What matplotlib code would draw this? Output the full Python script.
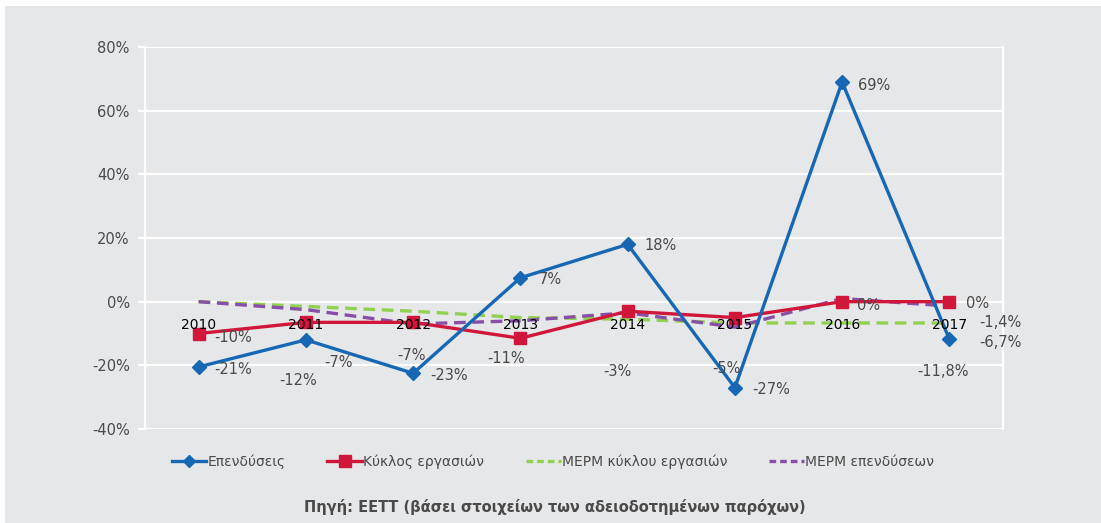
import matplotlib
matplotlib.use("Agg")
import matplotlib.pyplot as plt
from matplotlib.patches import Rectangle
from matplotlib.lines import Line2D

plt.rcParams['font.family'] = ['Liberation Sans Narrow', 'DejaVu Sans Condensed', 'DejaVu Sans']

years = ['2010', '2011', '2012', '2013', '2014', '2015', '2016', '2017']
investments = [-20.5, -12, -22.5, 7.5, 18, -27, 69, -11.8]
turnover = [-10, -6.5, -6.5, -11.5, -3, -5, 0, 0]
cagr_turnover = [0, -1.5, -3, -5, -5.5, -6.7, -6.7, -6.7]
cagr_invest = [0, -2.5, -7, -6, -3.5, -8, 1, -1.4]

inv_labels = ['-21%', '-12%', '-23%', '7%', '18%', '-27%', '69%', '-11,8%']
turn_labels = ['-10%', '-7%', '-7%', '-11%', '-3%', '-5%', '0%', '0%']
cagr_turn_label = '-6,7%'
cagr_inv_label = '-1,4%'

yticks = [-40, -20, 0, 20, 40, 60, 80]
series_names = ['Επενδύσεις', 'Κύκλος εργασιών', 'ΜΕΡΜ κύκλου εργασιών', 'ΜΕΡΜ επενδύσεων']
source = 'Πηγή: ΕΕΤΤ (βάσει στοιχείων των αδειοδοτημένων παρόχων)'

BG = '#e6e7e9'
TXT = '#4a4a4a'
BLUE = '#1768b4'
RED = '#d0173b'
GREEN = '#92d050'
PURPLE = '#8650a6'

W, H = 1101, 523
fig = plt.figure(figsize=(W / 100, H / 100), dpi=100)
fig.patch.set_facecolor('white')
fig.patches.append(Rectangle((5 / W, 0), 1, 1 - 6 / H, transform=fig.transFigure,
                             facecolor=BG, edgecolor='none', zorder=-10))

ax = fig.add_axes([145 / W, 1 - 429 / H, (1003 - 145) / W, (429 - 47) / H])
ax.set_facecolor(BG)
x = list(range(len(years)))

ax.plot(x, cagr_turnover, color=GREEN, lw=2.4, ls=(0, (3.5, 2)), zorder=3)
ax.plot(x, cagr_invest, color=PURPLE, lw=2.4, ls=(0, (3.5, 2)), zorder=3)
ax.plot(x, turnover, color=RED, lw=2.4, marker='s', ms=9, zorder=4)
ax.plot(x, investments, color=BLUE, lw=2.4, marker='D', ms=7, zorder=5)

ax.set_xlim(-0.5, len(years) - 0.5)
ax.set_ylim(-40, 80)
ax.set_yticks(yticks)
ax.set_yticklabels([f'{v}%' for v in yticks], color=TXT, fontsize=10.5)
ax.grid(axis='y', color='white', lw=1.6)
ax.set_axisbelow(True)
ax.set_xticks(x)
ax.set_xticklabels(years, color='#3c3c3c', fontsize=12)
ax.xaxis.set_zorder(6)
ax.spines['bottom'].set_position(('data', 0))
ax.spines['bottom'].set_visible(False)
ax.spines['top'].set_visible(False)
for s in ('left', 'right'):
    ax.spines[s].set_color('white')
    ax.spines[s].set_linewidth(1.6)
ax.tick_params(axis='x', length=0, pad=12)
ax.tick_params(axis='y', length=5, width=1.6, color='white', pad=6)

def lab(xi, yi, text, dx, dy, ha='left'):
    ax.annotate(text, (xi, yi), xytext=(dx, -dy), textcoords='offset pixels',
                ha=ha, va='center', fontsize=10.5, color=TXT, zorder=7)

inv_off = [(16, 3, 'left'), (-8, 41, 'center'), (17, 2, 'left'), (18, 2, 'left'),
           (17, 1, 'left'), (17, 2, 'left'), (16, 3, 'left'), (-6, 32, 'center')]
for i, (dx, dy, ha) in enumerate(inv_off):
    lab(i, investments[i], inv_labels[i], dx, dy, ha)

turn_off = [(16, 4, 'left'), (33, 40, 'center'), (-2, 33, 'center'), (-14, 20, 'center'),
            (-10, 60, 'center'), (-8, 51, 'center'), (15, 4, 'left'), (17, 2, 'left')]
for i, (dx, dy, ha) in enumerate(turn_off):
    lab(i, turnover[i], turn_labels[i], dx, dy, ha)

lab(7, cagr_turnover[7], cagr_turn_label, 30, 20)
lab(7, cagr_invest[7], cagr_inv_label, 30, 16)

handles = [
    Line2D([], [], color=BLUE, lw=2.4, marker='D', ms=6),
    Line2D([], [], color=RED, lw=2.4, marker='s', ms=8),
    Line2D([], [], color=GREEN, lw=2.4, ls=(0, (2, 1.2))),
    Line2D([], [], color=PURPLE, lw=2.4, ls=(0, (2, 1.2))),
]
fig.legend(handles, series_names, loc='center', bbox_to_anchor=(553 / W, 1 - 462 / H),
           ncol=4, frameon=False, fontsize=10, labelcolor=TXT, handlelength=2.5,
           handletextpad=0.1, columnspacing=3.0)

fig.text(555 / W, 1 - 507 / H, source, ha='center', va='center', fontsize=10.5,
         color=TXT, fontweight='bold')

fig.savefig('out.png', dpi=100, facecolor=fig.get_facecolor())
